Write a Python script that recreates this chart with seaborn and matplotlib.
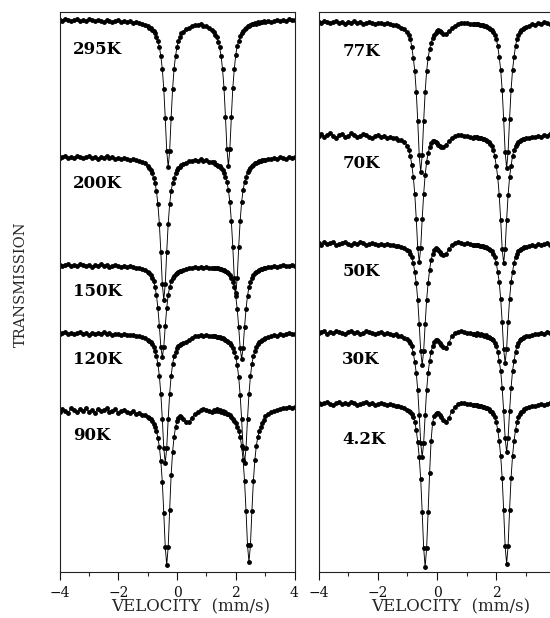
import matplotlib
matplotlib.use("Agg")
import matplotlib.pyplot as plt
from matplotlib.ticker import MultipleLocator, FixedLocator
import numpy as np
import pandas as pd
import seaborn as sns

# ---------------- data ----------------
velocity = [-4.0, -3.9, -3.8, -3.7, -3.6, -3.5, -3.4, -3.3, -3.2, -3.1,
            -3.0, -2.9, -2.8, -2.7, -2.6, -2.5, -2.4, -2.3, -2.2, -2.1,
            -2.0, -1.9, -1.8, -1.7, -1.6, -1.5, -1.4, -1.3, -1.2, -1.1,
            -1.0, -0.95, -0.9, -0.85, -0.8, -0.75, -0.7, -0.65, -0.6, -0.55,
            -0.5, -0.45, -0.4, -0.35, -0.3, -0.25, -0.2, -0.15, -0.1, -0.05,
            0.0, 0.05, 0.1, 0.15, 0.2,
            0.3, 0.4, 0.5, 0.6, 0.7, 0.8, 0.9, 1.0, 1.1, 1.2,
            1.25, 1.3, 1.35, 1.4, 1.45, 1.5, 1.55, 1.6, 1.65, 1.7,
            1.75, 1.8, 1.85, 1.9, 1.95, 2.0, 2.05, 2.1, 2.15, 2.2,
            2.25, 2.3, 2.35, 2.4, 2.45, 2.5, 2.55, 2.6, 2.65, 2.7,
            2.75, 2.8, 2.85, 2.9, 2.95,
            3.0, 3.1, 3.2, 3.3, 3.4, 3.5, 3.6, 3.7, 3.8, 3.9, 4.0]

# resonant absorption (arb. units, 0 = off-resonance baseline)
abs_295K = ([0, 1, -1, 0, 1, 0, -1, 1, 0, 1, -1, 0, 1, 0, 1, 2, 0, 1, 2, 1, 0, 2, 1, 2, 1, 3, 2, 3, 4, 5]
            + [6, 8, 8, 10, 11, 13, 17, 21, 27, 36, 49, 69, 98, 131, 147, 131, 98, 69, 49, 36, 27, 21, 17, 13, 12]
            + [9, 8, 6, 5, 5, 4, 6, 6, 8, 10]
            + [12, 15, 17, 22, 27, 36, 49, 68, 97, 129, 146, 129, 97, 68, 49, 35, 26, 21, 16, 13, 11, 9, 8, 6, 6,
               5, 4, 4, 3, 4, 2, 3, 2, 2, 1]
            + [2, 1, 2, 1, 0, 1, 0, 1, -1, 0, 0])
abs_200K = ([1, 0, -1, 1, 0, 1, -1, 0, 1, 0, -1, 1, 0, 2, 0, 1, -1, 1, 0, 2, 1, 2, 1, 2, 3, 2, 3, 4, 5, 6]
            + [9, 11, 13, 16, 21, 26, 34, 47, 67, 95, 127, 143, 127, 95, 67, 47, 34, 26, 21, 16, 13, 11, 10, 8, 7]
            + [6, 4, 4, 3, 4, 2, 4, 3, 5, 5]
            + [5, 7, 8, 9, 9, 11, 13, 16, 20, 25, 33, 45, 64, 90, 121, 136, 121, 90, 64, 45, 33, 25, 20, 15, 13,
               11, 9, 8, 6, 6, 5, 4, 4, 3, 3]
            + [3, 2, 2, 1, 2, 0, 1, 2, 0, 1, 0])
abs_150K = ([0, 1, 0, -1, 1, 0, 1, -1, 0, 1, 0, 2, 0, 1, -1, 1, 0, 2, 1, 0, 1, 2, 1, 2, 1, 2, 3, 3, 4, 5]
            + [7, 8, 10, 13, 16, 22, 30, 43, 61, 82, 92, 82, 61, 43, 30, 22, 16, 13, 11, 9, 8, 7, 6, 6, 5]
            + [4, 3, 3, 2, 3, 2, 3, 2, 3, 3]
            + [3, 3, 3, 3, 4, 4, 5, 5, 6, 7, 8, 10, 13, 17, 22, 31, 44, 62, 83, 94, 83, 62, 44, 31, 22,
               17, 13, 10, 8, 7, 6, 5, 4, 4, 3]
            + [3, 2, 2, 1, 2, 1, 0, 1, 1, 0, 1])
abs_120K = ([1, 0, -1, 1, 0, 1, 0, -1, 1, 0, 2, 0, 1, 0, 1, -1, 1, 0, 2, 1, 1, 2, 1, 2, 2, 2, 3, 3, 4, 5]
            + [7, 8, 9, 11, 14, 18, 23, 31, 43, 61, 86, 115, 130, 115, 86, 61, 43, 31, 23, 19, 15, 13, 12, 11, 10]
            + [9, 7, 5, 3, 3, 2, 3, 2, 3, 3]
            + [3, 3, 4, 4, 4, 5, 5, 6, 7, 8, 9, 10, 12, 15, 19, 24, 32, 44, 62, 86, 115, 130, 115, 86, 61,
               43, 31, 23, 18, 14, 11, 9, 8, 7, 6]
            + [5, 4, 3, 2, 3, 1, 2, 1, 0, 1, 1])
abs_90K = ([2, -1, 1, 3, -2, 0, 2, -1, 1, -2, 2, 0, 3, -1, 1, 0, -2, 2, 1, -1, 3, 1, 0, 2, 3, 1, 4, 3, 5, 5]
           + [7, 8, 9, 11, 14, 17, 21, 28, 37, 51, 72, 103, 137, 155, 137, 100, 65, 42, 27, 17, 11, 8, 6, 7, 9]
           + [12, 12, 8, 4, 2, 0, -1, 0, 1, 2]
           + [0, 1, -1, 1, 0, 2, 1, 3, 2, 4, 4, 5, 7, 9, 11, 13, 17, 21, 27, 36, 50, 71, 101, 135, 152,
              135, 101, 71, 50, 36, 27, 21, 17, 13, 10]
           + [6, 4, 2, 1, 0, -1, -2, -2, -3, -2, -3])

abs_77K = ([0, 1, -1, 0, 1, 0, -1, 1, 0, 2, 0, 1, -1, 1, 0, 2, 1, 0, 1, 2, 1, 1, 2, 1, 2, 3, 3, 4, 6, 7]
           + [10, 13, 17, 25, 36, 49, 70, 99, 133, 150, 133, 99, 70, 49, 36, 27, 21, 16, 13, 11, 9, 8, 9, 10, 12]
           + [12, 9, 6, 4, 2, 1, 1, 1, 2, 2]
           + [2, 2, 2, 2, 3, 3, 3, 4, 4, 5, 6, 7, 8, 10, 13, 17, 24, 35, 48, 68, 97, 130, 146, 130, 97,
              68, 48, 35, 24, 17, 13, 10, 8, 7, 6]
           + [5, 4, 2, 3, 1, 2, 0, 1, 2, 0, 1])
abs_70K = ([1, -1, 2, 0, -2, 1, 3, 0, -1, 2, 1, -2, 0, 2, 1, -1, 0, 2, 3, 1, 0, 2, 1, 3, 2, 3, 3, 5, 5, 7]
           + [11, 15, 21, 30, 42, 59, 84, 113, 127, 113, 84, 59, 40, 27, 18, 12, 8, 6, 6, 7, 8, 10, 11, 12, 12]
           + [10, 6, 3, 1, 0, 0, 1, 1, 2, 3]
           + [2, 2, 2, 3, 3, 3, 4, 4, 5, 6, 7, 9, 11, 15, 21, 31, 42, 60, 85, 114, 128, 114, 85, 60, 42,
              31, 21, 15, 11, 9, 7, 6, 5, 4, 4]
           + [3, 3, 2, 2, 1, 2, 0, 1, -1, 1, 0])
abs_50K = ([0, 2, -1, 1, 0, -1, 2, 1, 0, -1, 1, 2, 0, 1, -1, 0, 2, 1, 0, 1, 2, 1, 2, 1, 2, 2, 3, 3, 4, 5]
           + [7, 8, 11, 14, 20, 29, 40, 57, 81, 108, 122, 108, 81, 57, 40, 27, 17, 11, 7, 5, 6, 7, 9, 11, 12]
           + [11, 6, 2, 0, -1, 0, 1, 0, 1, 2]
           + [2, 2, 2, 2, 3, 3, 3, 4, 4, 5, 6, 7, 8, 11, 14, 20, 29, 39, 56, 79, 106, 120, 106, 79, 56,
              39, 29, 20, 14, 11, 8, 7, 6, 5, 4]
           + [4, 3, 2, 3, 1, 2, 1, 0, 2, 1, 0])
abs_30K = ([1, 0, -1, 2, 0, 1, -1, 0, 1, 2, 0, -1, 1, 0, 2, 1, -1, 0, 1, 2, 1, 0, 2, 1, 2, 3, 2, 4, 4, 6]
           + [7, 9, 11, 14, 21, 30, 41, 58, 83, 111, 125, 111, 83, 58, 41, 29, 20, 14, 10, 8, 8, 9, 11, 13, 15]
           + [16, 11, 4, 1, 0, -1, 0, 1, 1, 2]
           + [2, 3, 1, 2, 3, 2, 3, 4, 3, 5, 5, 6, 7, 8, 11, 14, 20, 29, 39, 56, 79, 106, 120, 106, 79,
              56, 39, 29, 20, 14, 11, 8, 7, 6, 5]
           + [4, 4, 3, 2, 2, 1, 2, 0, 1, 1, 0])
abs_4K = ([0, 1, 0, -1, 1, 2, 0, -1, 1, 0, 1, -1, 0, 2, 1, 0, -1, 1, 0, 2, 1, 0, 1, 2, 1, 2, 3, 3, 4, 5]
          + [7, 8, 9, 11, 14, 19, 27, 39, 54, 76, 109, 145, 164, 145, 109, 70, 38, 20, 13, 11, 10, 10, 12, 14, 17]
          + [19, 15, 8, 4, 1, 0, 0, 1, 1, 2]
          + [2, 2, 2, 3, 3, 3, 4, 4, 5, 5, 6, 8, 9, 11, 14, 19, 27, 38, 53, 75, 107, 143, 161, 143, 107,
             75, 53, 38, 27, 19, 14, 11, 9, 8, 6]
          + [5, 4, 3, 3, 2, 1, 2, 1, 0, 1, 1])

temps_left = ["295K", "200K", "150K", "120K", "90K"]
temps_right = ["77K", "70K", "50K", "30K", "4.2K"]
spectra_left = [abs_295K, abs_200K, abs_150K, abs_120K, abs_90K]
spectra_right = [abs_77K, abs_70K, abs_50K, abs_30K, abs_4K]
ticks_left = [-4, -2, 0, 2, 4]
ticks_right = [-4, -2, 0, 2]

# vertical stacking offsets and label placement (layout)
levels_left = [552, 415, 307, 239, 162]
levels_right = [550, 437, 329, 240, 169]
label_y_left = [523, 388, 280, 213, 136]
label_y_right = [520, 408, 300, 213, 132]
label_x_left = -3.55
label_x_right = -3.2


def build_frame(temps, spectra, levels):
    frames = []
    for t, a, lev in zip(temps, spectra, levels):
        assert len(a) == len(velocity), (t, len(a))
        frames.append(pd.DataFrame({"velocity": velocity,
                                    "transmission": lev - np.asarray(a, float),
                                    "spectrum": t}))
    return pd.concat(frames, ignore_index=True)


df_left = build_frame(temps_left, spectra_left, levels_left)
df_right = build_frame(temps_right, spectra_right, levels_right)

# ---------------- figure ----------------
sns.set_style("ticks")
plt.rcParams["font.family"] = ["DejaVu Serif"]
plt.rcParams["axes.unicode_minus"] = True

W, H = 550, 618
fig = plt.figure(figsize=(W / 100, H / 100), dpi=100)
ax_l = fig.add_axes([59.5 / W, 46 / H, 235 / W, 560 / H])
ax_r = fig.add_axes([318.5 / W, 46 / H, 237 / W, 560 / H])

for ax, df, temps, ly, lx, ticks in [
        (ax_l, df_left, temps_left, label_y_left, label_x_left, ticks_left),
        (ax_r, df_right, temps_right, label_y_right, label_x_right, ticks_right)]:
    sns.lineplot(data=df, x="velocity", y="transmission", units="spectrum",
                 estimator=None, color="black", linewidth=0.65, marker="o",
                 markersize=3.5, markeredgewidth=0, ax=ax, legend=False)
    for t, y in zip(temps, ly):
        ax.text(lx, y, t, ha="left", va="center", fontsize=12,
                fontweight="bold", color="black")
    ax.set_xlim(-4, 4)
    ax.set_ylim(0, 560)
    ax.set_yticks([])
    ax.set_ylabel("")
    ax.xaxis.set_major_locator(FixedLocator(ticks))
    ax.xaxis.set_minor_locator(MultipleLocator(1))
    ax.tick_params(axis="x", which="major", direction="out", length=6, width=0.8,
                   labelsize=10, pad=4, colors="#111111")
    ax.tick_params(axis="x", which="minor", direction="out", length=3, width=0.8)
    for s in ax.spines.values():
        s.set_visible(True)
        s.set_linewidth(0.8)
        s.set_color("#222222")
    ax.set_xlabel("VELOCITY  (mm/s)", fontsize=12)
    ax.xaxis.label.set_verticalalignment("center")
    ax.xaxis.set_label_coords(0.557, -0.0625)

fig.text(21 / W, 1 - 284 / H, "TRANSMISSION", rotation=90, ha="center",
         va="center", fontsize=10.5)

fig.savefig("out.png", dpi=100)
